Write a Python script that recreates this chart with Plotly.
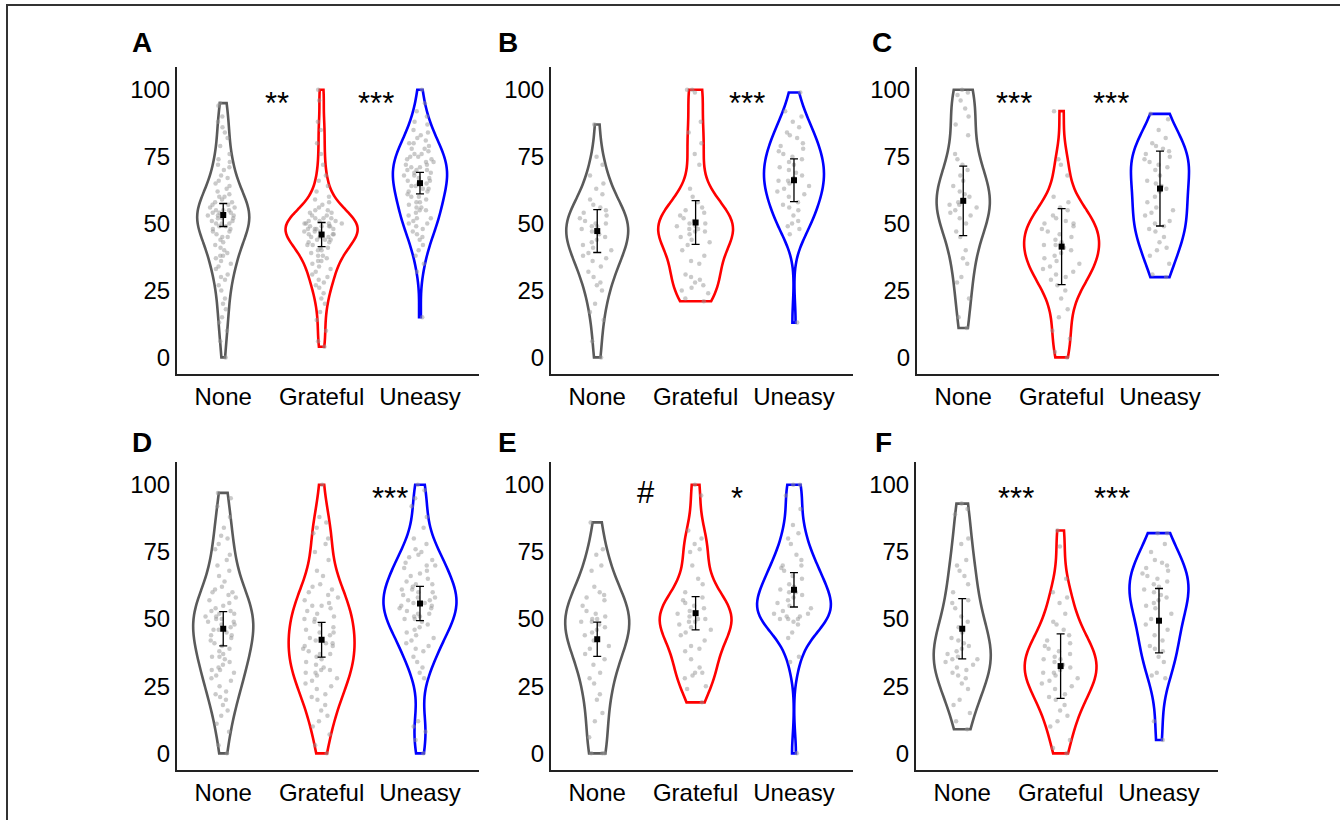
import plotly.graph_objects as go

# ---------------- data ----------------
categories = ["None", "Grateful", "Uneasy"]
tick_vals_y = [0, 25, 50, 75, 100]
panel_letters = ["A", "B", "C", "D", "E", "F"]

A_none = [95, 94, 90, 88, 86, 84, 82, 79, 76, 74, 73, 72, 71, 70, 68, 67, 66, 65, 64, 63, 62, 61, 60, 60, 59, 58, 58, 57,
          57, 56, 56, 55, 55, 55, 54, 54, 54, 53, 53, 53, 52, 52, 52, 51, 51, 50, 50, 50, 49, 49, 48, 48, 47, 47, 46, 45,
          45, 44, 43, 42, 41, 40, 39, 38, 38, 37, 36, 35, 34, 33, 31, 30, 29, 27, 25, 22, 20, 18, 15, 13, 10, 6, 0]
A_grateful = [100, 96, 88, 85, 80, 76, 72, 68, 66, 64, 62, 60, 59, 58, 57, 56, 55, 55, 54, 54, 53, 53, 52, 52, 52, 51, 51,
              51, 50, 50, 50, 50, 49, 49, 49, 49, 48, 48, 48, 48, 47, 47, 47, 46, 46, 46, 45, 45, 45, 44, 44, 44, 43, 43,
              42, 42, 41, 41, 40, 40, 39, 38, 38, 37, 36, 36, 35, 34, 33, 32, 31, 30, 29, 28, 27, 26, 24, 22, 20, 17, 14,
              10, 6, 4]
A_uneasy = [100, 95, 92, 90, 88, 87, 85, 84, 83, 82, 81, 80, 80, 79, 78, 78, 77, 76, 76, 75, 75, 74, 74, 73, 73, 72, 72,
            71, 71, 70, 70, 70, 69, 69, 68, 68, 67, 67, 66, 66, 65, 65, 64, 64, 63, 63, 62, 62, 61, 60, 60, 59, 58, 58, 57,
            56, 56, 55, 55, 54, 53, 52, 52, 51, 50, 50, 49, 48, 47, 46, 45, 44, 42, 40, 38, 35, 32, 15]

B_none = [87, 75, 72, 68, 65, 63, 61, 59, 57, 56, 55, 54, 53, 52, 51, 50, 50, 49, 49, 48, 47, 46, 45, 44, 43, 42, 41, 40,
          39, 38, 37, 36, 34, 32, 30, 28, 27, 25, 20, 17, 14, 6, 0]
B_grateful = [100, 100, 99, 88, 84, 80, 76, 72, 63, 60, 58, 56, 55, 54, 53, 52, 51, 50, 50, 49, 49, 48, 48, 47, 47, 46,
              45, 44, 43, 42, 40, 38, 36, 35, 31, 30, 29, 28, 27, 26, 25, 24, 22, 21]
B_uneasy = [99, 92, 90, 88, 86, 84, 83, 82, 80, 79, 78, 77, 76, 75, 74, 73, 72, 71, 70, 69, 68, 67, 66, 66, 65, 64, 63,
            62, 61, 60, 58, 57, 56, 55, 53, 51, 50, 49, 48, 46, 13]

C_none = [100, 99, 98, 96, 93, 90, 87, 83, 76, 74, 72, 70, 68, 66, 64, 62, 61, 60, 59, 58, 57, 57, 56, 55, 54, 53, 52,
          50, 47, 45, 40, 37, 35, 30, 28, 22, 15, 11]
C_grateful = [92, 74, 72, 68, 60, 58, 56, 55, 53, 52, 51, 50, 50, 49, 48, 47, 46, 45, 44, 43, 42, 42, 41, 40, 39, 38, 37,
              36, 35, 34, 33, 32, 31, 30, 29, 27, 25, 22, 18, 15, 10, 7, 2, 0]
C_uneasy = [91, 89, 85, 82, 80, 79, 78, 77, 76, 75, 74, 73, 72, 71, 70, 68, 66, 65, 64, 63, 62, 60, 58, 56, 55, 54, 53,
            51, 50, 49, 48, 47, 45, 43, 41, 40, 38, 35, 31, 30]

D_none = [97, 95, 92, 88, 84, 81, 80, 78, 76, 74, 72, 70, 68, 66, 64, 62, 61, 60, 60, 59, 58, 57, 56, 55, 54, 53, 53, 52,
          52, 51, 51, 50, 50, 49, 49, 48, 48, 47, 46, 46, 45, 44, 44, 43, 42, 41, 40, 39, 38, 37, 36, 36, 35, 34, 33, 32,
          31, 31, 30, 29, 28, 27, 25, 23, 22, 21, 20, 18, 16, 14, 11, 8, 3, 0]
D_grateful = [100, 88, 86, 84, 82, 80, 78, 75, 72, 68, 66, 63, 62, 61, 60, 59, 58, 57, 56, 55, 55, 54, 53, 52, 51, 50,
              50, 49, 48, 47, 46, 45, 45, 44, 43, 42, 41, 41, 40, 40, 39, 38, 37, 37, 36, 35, 34, 33, 32, 31, 31, 30, 30,
              29, 28, 27, 26, 25, 24, 22, 21, 20, 18, 16, 14, 12, 10, 7, 3, 0]
D_uneasy = [100, 98, 95, 92, 88, 84, 80, 78, 76, 75, 74, 73, 72, 71, 70, 70, 69, 68, 67, 66, 65, 64, 63, 63, 62, 61, 61,
            60, 60, 59, 58, 58, 57, 57, 56, 56, 55, 55, 54, 54, 53, 52, 52, 51, 51, 50, 50, 49, 48, 47, 46, 45, 44, 43,
            42, 41, 40, 39, 38, 36, 34, 32, 30, 28, 12, 10, 8, 5, 0]

E_none = [86, 76, 74, 70, 68, 62, 60, 59, 58, 57, 55, 53, 52, 51, 50, 50, 49, 49, 48, 47, 46, 45, 44, 42, 40, 39, 37, 35,
          33, 30, 28, 26, 22, 20, 15, 12, 6, 0, 0, 0]
E_grateful = [100, 96, 83, 80, 78, 76, 75, 70, 65, 63, 60, 58, 57, 56, 55, 54, 53, 52, 52, 51, 50, 50, 49, 49, 48, 47,
              46, 45, 44, 42, 40, 39, 38, 35, 32, 30, 30, 29, 28, 25, 24, 19]
E_uneasy = [100, 100, 96, 91, 85, 82, 80, 78, 74, 72, 70, 70, 69, 68, 66, 65, 63, 62, 61, 60, 60, 59, 58, 57, 56, 55, 54,
            53, 52, 52, 51, 51, 50, 50, 50, 49, 48, 45, 43, 36, 34, 0]

F_none = [93, 91, 89, 80, 78, 72, 70, 68, 66, 63, 60, 57, 56, 54, 51, 49, 47, 45, 43, 42, 41, 40, 39, 38, 37, 36, 35, 35,
          34, 33, 32, 31, 30, 29, 28, 26, 24, 20, 18, 15, 12, 9]
F_grateful = [83, 77, 65, 60, 58, 56, 52, 49, 48, 46, 44, 42, 41, 40, 39, 38, 37, 36, 35, 35, 34, 33, 32, 31, 30, 30, 29,
              28, 27, 26, 25, 24, 22, 21, 20, 18, 16, 14, 12, 10, 5, 2, 0]
F_uneasy = [82, 82, 78, 75, 72, 71, 70, 69, 68, 67, 66, 65, 64, 63, 62, 61, 60, 59, 58, 57, 56, 55, 54, 52, 50, 48, 46,
            44, 42, 40, 39, 38, 36, 34, 30, 29, 28, 12, 5]

# group means and error-bar half widths (None, Grateful, Uneasy)
means_A = [53.2, 45.9, 65.1]
err_A = [4.3, 4.5, 4.0]
means_B = [47.2, 50.4, 66.2]
err_B = [8.0, 8.2, 8.0]
means_C = [58.5, 41.4, 63.1]
err_C = [13.0, 14.2, 14.0]
means_D = [46.4, 42.3, 55.8]
err_D = [6.4, 6.5, 6.4]
means_E = [42.5, 52.2, 60.9]
err_E = [6.4, 6.2, 6.4]
means_F = [46.4, 32.5, 49.4]
err_F = [11.2, 12.0, 12.0]

# significance labels: (x position between groups, label)
sig_A = [(0.55, "**"), (1.55, "***")]
sig_B = [(1.52, "***")]
sig_C = [(0.52, "***"), (1.50, "***")]
sig_D = [(1.70, "***")]
sig_E = [(0.50, "#"), (1.42, "*")]
sig_F = [(0.55, "***"), (1.52, "***")]

# ---------------- styling / layout ----------------
W, H = 1340, 820
FONT = "Liberation Sans, Arial, sans-serif"
line_colors = ["#5a5a5a", "#ff0000", "#0000ff"]

panels = [
    ([A_none, A_grateful, A_uneasy], means_A, err_A, sig_A, [0.53, 0.73, 0.55]),
    ([B_none, B_grateful, B_uneasy], means_B, err_B, sig_B, [0.63, 0.76, 0.61]),
    ([C_none, C_grateful, C_uneasy], means_C, err_C, sig_C, [0.54, 0.76, 0.59]),
    ([D_none, D_grateful, D_uneasy], means_D, err_D, sig_D, [0.61, 0.67, 0.74]),
    ([E_none, E_grateful, E_uneasy], means_E, err_E, sig_E, [0.65, 0.73, 0.75]),
    ([F_none, F_grateful, F_uneasy], means_F, err_F, sig_F, [0.58, 0.73, 0.60]),
]

# pixel boxes of each plotting area: (left, right, top, bottom)
boxes = [
    (177, 479, 67, 374), (551, 853, 67, 374), (917, 1219, 67, 374),
    (177, 479, 462, 770), (551, 853, 462, 770), (916, 1218, 462, 770),
]
letter_pos = [(142, 42), (508, 42), (882, 42), (142, 442), (507, 442), (883, 442)]

fig = go.Figure()
layout = dict(
    width=W, height=H, margin=dict(l=0, r=0, t=0, b=0),
    paper_bgcolor="white", plot_bgcolor="white",
    showlegend=False, violinmode="overlay",
    font=dict(family=FONT, color="black"),
)
annotations = []

for i, (groups, means, errs, sigs, widths) in enumerate(panels):
    n = i + 1
    xa = "x" if n == 1 else f"x{n}"
    ya = "y" if n == 1 else f"y{n}"
    for j, vals in enumerate(groups):
        fig.add_trace(go.Violin(
            y=vals, x0=j, xaxis=xa, yaxis=ya,
            width=widths[j], spanmode="hard", scalemode="width",
            scalegroup=f"p{n}g{j}",
            line=dict(color=line_colors[j], width=2.6),
            fillcolor="rgba(255,255,255,0)",
            points="all", pointpos=0, jitter=0.6,
            marker=dict(color="rgba(150,150,150,0.5)", size=4.5, line=dict(width=0)),
            box_visible=False, meanline_visible=False,
            hoverinfo="skip",
        ))
    fig.add_trace(go.Scatter(
        x=[0, 1, 2], y=means, xaxis=xa, yaxis=ya, mode="markers",
        marker=dict(symbol="square", size=6, color="black"),
        error_y=dict(type="data", array=errs, visible=True, color="black", thickness=1.3, width=4),
        hoverinfo="skip",
    ))
    l, r, t, b = boxes[i]
    layout["xaxis" if n == 1 else f"xaxis{n}"] = dict(
        domain=[l / W, r / W], range=[-0.47, 2.6], anchor=ya,
        tickvals=[0, 1, 2], ticktext=categories, showgrid=False, zeroline=False,
        showline=True, linecolor="#222", linewidth=2, ticks="",
        tickfont=dict(family=FONT, size=24, color="black"), fixedrange=True,
    )
    layout["yaxis" if n == 1 else f"yaxis{n}"] = dict(
        domain=[1 - b / H, 1 - t / H], range=[-6.2, 108.5], anchor=xa,
        tickvals=tick_vals_y, showgrid=False, zeroline=False,
        showline=True, linecolor="#222", linewidth=2, ticks="",
        tickfont=dict(family=FONT, size=24, color="black"), fixedrange=True,
    )
    for sx, lab in sigs:
        annotations.append(dict(
            x=sx, y=95 if lab != "#" else 97, xref=xa, yref=ya, text=lab, showarrow=False,
            font=dict(family=FONT, size=31, color="black"), xanchor="center", yanchor="middle",
        ))
    lx, ly = letter_pos[i]
    annotations.append(dict(
        x=lx / W, y=1 - ly / H, xref="paper", yref="paper", text=f"<b>{panel_letters[i]}</b>",
        showarrow=False, font=dict(family=FONT, size=28, color="black"),
        xanchor="center", yanchor="middle",
    ))

layout["annotations"] = annotations
layout["shapes"] = [dict(
    type="rect", xref="paper", yref="paper",
    x0=7 / W, x1=1.02, y0=-0.02, y1=1 - 5 / H,
    line=dict(color="#333", width=2), fillcolor="rgba(0,0,0,0)",
)]
fig.update_layout(**layout)
fig.write_html("out.html")
